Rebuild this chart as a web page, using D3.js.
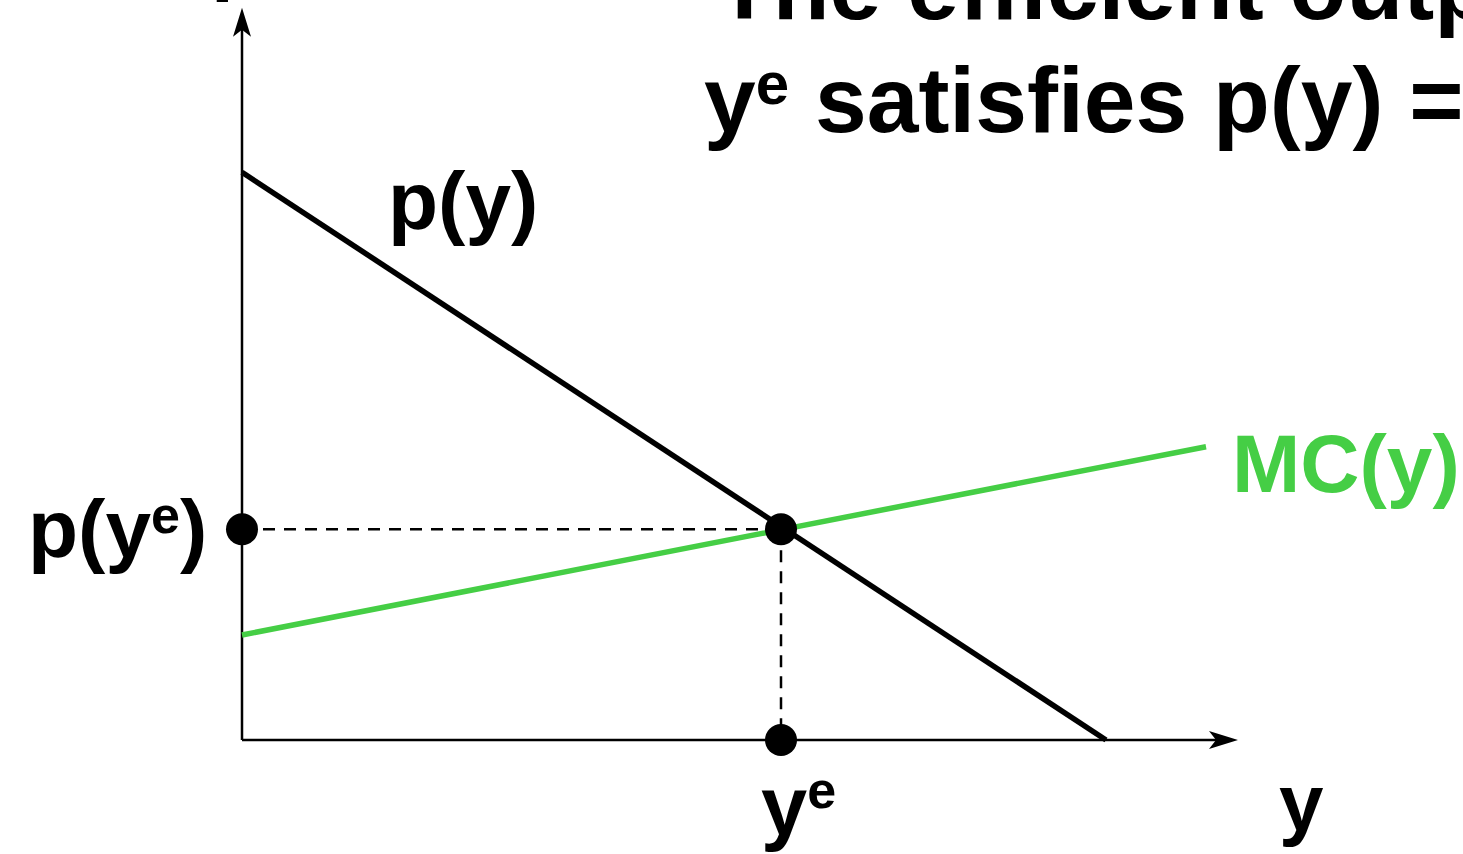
<!DOCTYPE html>
<html><head><meta charset="utf-8">
<script src="https://cdn.jsdelivr.net/npm/d3@7"></script>
<style>html,body{margin:0;padding:0;background:#fff;overflow:hidden}svg{display:block}
text{font-family:"Liberation Sans",Arial,Helvetica,sans-serif;font-weight:bold}</style>
</head><body>
<script>
// Data (model units)
const demandX = [0, 86.4];
const demandY = [81.1, 0];
const mcX = [0, 96.4];
const mcY = [15, 41.9];
const eqX = [53.9];
const eqY = [30.1];
const axisMax = [99.6, 104.6];
const titleLines = ["The efficient output level", "satisfies p(y) = MC(y)."];

const W = 1463, H = 854;
const green = "#45CE45";
const svg = d3.select("body").append("svg").attr("width", W).attr("height", H);

const x = d3.scaleLinear().domain([0, 100]).range([242, 1242]);
const y = d3.scaleLinear().domain([0, 100]).range([740, 40]);

const line = d3.line().x(d => x(d[0])).y(d => y(d[1]));

// axes with arrowheads
svg.append("path").attr("d", line([[0, 0], [0, axisMax[1] - 2]])).attr("stroke", "#000").attr("stroke-width", 2.5).attr("fill", "none");
svg.append("path").attr("d", line([[0, 0], [axisMax[0] - 2, 0]])).attr("stroke", "#000").attr("stroke-width", 2.5).attr("fill", "none");
const tipY = [x(0), y(axisMax[1])];
svg.append("path").attr("d", `M${tipY[0]},${tipY[1]} L${tipY[0]-9},${tipY[1]+29} L${tipY[0]},${tipY[1]+22} L${tipY[0]+9},${tipY[1]+29} Z`).attr("fill", "#000");
const tipX = [x(axisMax[0]), y(0)];
svg.append("path").attr("d", `M${tipX[0]},${tipX[1]} L${tipX[0]-29},${tipX[1]-9} L${tipX[0]-22},${tipX[1]} L${tipX[0]-29},${tipX[1]+9} Z`).attr("fill", "#000");

// dashed guides
svg.append("path").attr("d", line([[0, eqY[0]], [eqX[0], eqY[0]]])).attr("stroke", "#000").attr("stroke-width", 2.5).attr("stroke-dasharray", "12,9").attr("fill", "none");
svg.append("path").attr("d", line([[eqX[0], eqY[0]], [eqX[0], 0]])).attr("stroke", "#000").attr("stroke-width", 2.5).attr("stroke-dasharray", "12,9").attr("fill", "none");

// demand
svg.append("path").attr("d", line(demandX.map((v, i) => [v, demandY[i]]))).attr("stroke", "#000").attr("stroke-width", 5.5).attr("fill", "none");
// MC
svg.append("path").attr("d", line(mcX.map((v, i) => [v, mcY[i]]))).attr("stroke", green).attr("stroke-width", 5.5).attr("fill", "none");

// dots
const dots = [[eqX[0], eqY[0]], [0, eqY[0]], [eqX[0], 0]];
svg.selectAll("circle.dot").data(dots).join("circle").attr("class", "dot")
  .attr("cx", d => x(d[0])).attr("cy", d => y(d[1])).attr("r", 16).attr("fill", "#000");

// labels
svg.append("text").attr("x", 211).attr("y", -15).attr("font-size", 82).text("p");
svg.append("text").attr("x", 388).attr("y", 229).attr("font-size", 82).text("p(y)");
svg.append("text").attr("x", 1232).attr("y", 492).attr("font-size", 82).attr("fill", green).text("MC(y)");
svg.append("text").attr("x", 1279).attr("y", 830).attr("font-size", 80).text("y");

const lp = svg.append("text").attr("x", 28).attr("y", 557).attr("font-size", 82);
lp.append("tspan").text("p(y");
lp.append("tspan").attr("font-size", 52).attr("dy", -24).text("e");
lp.append("tspan").attr("dy", 24).text(")");

const ly = svg.append("text").attr("x", 761).attr("y", 835).attr("font-size", 83);
ly.append("tspan").text("y");
ly.append("tspan").attr("font-size", 52).attr("dy", -27).text("e");

// title
svg.append("text").attr("x", 716).attr("y", 19).attr("font-size", 93).text(titleLines[0]);
const tt = svg.append("text").attr("x", 704).attr("y", 132).attr("font-size", 93);
tt.append("tspan").text("y");
tt.append("tspan").attr("font-size", 60).attr("dy", -28).text("e");
tt.append("tspan").attr("dy", 28).text(" " + titleLines[1]);
</script>
</body></html>
